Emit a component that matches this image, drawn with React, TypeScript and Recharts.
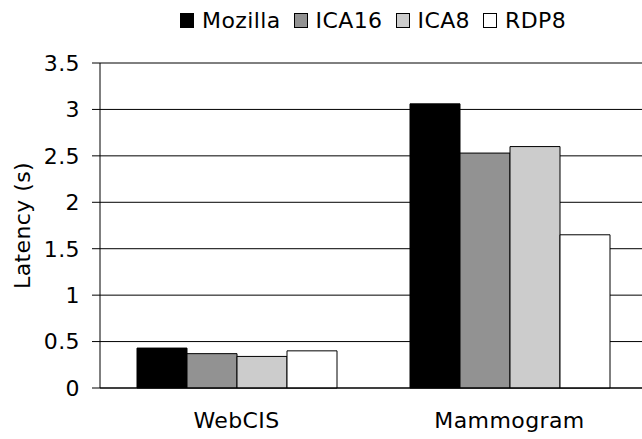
import React from 'react';
import { ComposedChart, Bar, XAxis, YAxis, CartesianGrid, Legend } from 'recharts';

const categories = ['WebCIS', 'Mammogram'];
const mozilla = [0.43, 3.06];
const ica16 = [0.37, 2.53];
const ica8 = [0.34, 2.6];
const rdp8 = [0.4, 1.65];
const yTicks = [0, 0.5, 1, 1.5, 2, 2.5, 3, 3.5];

const SERIES = [
  { key: 'Mozilla', fill: '#000000' },
  { key: 'ICA16', fill: '#929292' },
  { key: 'ICA8', fill: '#cccccc' },
  { key: 'RDP8', fill: '#ffffff' },
];

const FONT = '"DejaVu Sans", Verdana, sans-serif';
const TEXT = { fill: '#000', fontSize: 22, fontFamily: FONT, letterSpacing: 0.4 };

const data = categories.map((name, i) => ({
  name,
  Mozilla: mozilla[i],
  ICA16: ica16[i],
  ICA8: ica8[i],
  RDP8: rdp8[i],
}));

const LegendBox = () => (
  <div style={{ display: 'flex', alignItems: 'center', height: 40, paddingLeft: 180, fontFamily: FONT, fontSize: 22, letterSpacing: 0.4, color: '#000' }}>
    {SERIES.map(s => (
      <div key={s.key} style={{ display: 'flex', alignItems: 'center', marginRight: 13 }}>
        <span style={{ display: 'inline-block', width: 12, height: 13, background: s.fill, border: '1px solid #000', marginRight: 8 }} />
        <span>{s.key}</span>
      </div>
    ))}
  </div>
);

export default function App() {
  return (
    <div style={{ position: 'fixed', left: 0, top: 0, width: 642, height: 439, overflow: 'hidden', background: '#fff' }}>
      <ComposedChart
        width={660}
        height={439}
        data={data}
        margin={{ top: 23, right: 14, left: 0, bottom: 11 }}
        barCategoryGap={37}
        barGap={0}
      >
        <Legend verticalAlign="top" height={40} content={() => <LegendBox />} wrapperStyle={{ top: 0, left: 0, width: 660 }} />
        <CartesianGrid vertical={false} stroke="#000" />
        {/* boundary tick marks between categories */}
        <XAxis
          xAxisId="b"
          type="number"
          domain={[0, 2]}
          ticks={[0, 1, 2]}
          allowDataOverflow
          height={0}
          tickFormatter={() => ''}
          tickSize={8}
          axisLine={false}
          tickLine={{ stroke: '#000' }}
        />
        <XAxis
          xAxisId="cat"
          dataKey="name"
          height={40}
          tickLine={false}
          axisLine={{ stroke: '#000' }}
          tick={TEXT}
          tickMargin={18}
        />
        <YAxis
          domain={[0, 3.5]}
          ticks={yTicks}
          width={100}
          tickSize={8}
          tickMargin={12}
          axisLine={{ stroke: '#000' }}
          tickLine={{ stroke: '#000' }}
          tick={TEXT}
          label={{ value: 'Latency (s)', angle: -90, position: 'insideLeft', dx: 17, style: { ...TEXT, textAnchor: 'middle' } }}
        />
        {SERIES.map(s => (
          <Bar key={s.key} xAxisId="cat" dataKey={s.key} fill={s.fill} stroke="#000" strokeWidth={1} isAnimationActive={false} />
        ))}
      </ComposedChart>
    </div>
  );
}
